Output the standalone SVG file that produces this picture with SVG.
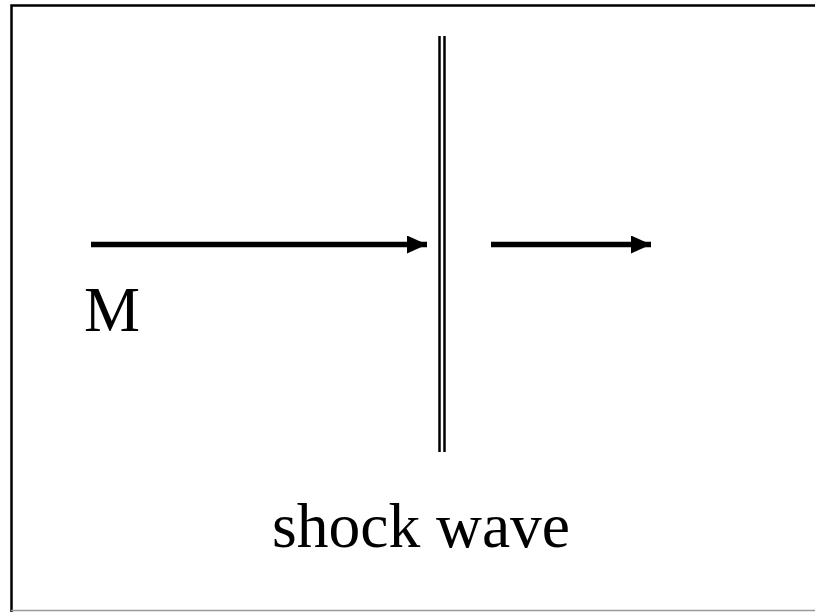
<svg xmlns="http://www.w3.org/2000/svg" width="815" height="612" viewBox="0 0 815 612">
<defs>
<marker id="ah" viewBox="0 0 20 18" refX="20" refY="9" markerWidth="20" markerHeight="18" markerUnits="userSpaceOnUse" orient="auto">
<path d="M0,0 L20,9 L0,18 Z" fill="#000"/>
</marker>
<style>
.t{font-family:"Liberation Serif","Times New Roman",serif;fill:#000}
.a{stroke:#000;stroke-width:5.5;fill:none}
</style>
</defs>
<rect width="815" height="612" fill="#fff"/>
<path d="M11.5,612 V5.5 H815" fill="none" stroke="#000" stroke-width="2.5"/>
<line x1="11" y1="610.5" x2="815" y2="610.5" stroke="#999" stroke-width="1.5"/>
<g id="shock">
<line x1="439.5" y1="36" x2="439.5" y2="452" stroke="#000" stroke-width="2.5"/>
<line x1="444.5" y1="36" x2="444.5" y2="452" stroke="#000" stroke-width="2.5"/>
</g>
<g id="connectors">
<line class="a" x1="91" y1="244.5" x2="427" y2="244.5" marker-end="url(#ah)"/>
<line class="a" x1="491" y1="244.5" x2="651" y2="244.5" marker-end="url(#ah)"/>
</g>
<g id="labelM"><text class="t" x="84" y="331" font-size="63">M</text></g>
<g id="labelShock"><text class="t" x="272" y="547" font-size="63.5">shock wave</text></g>
</svg>
